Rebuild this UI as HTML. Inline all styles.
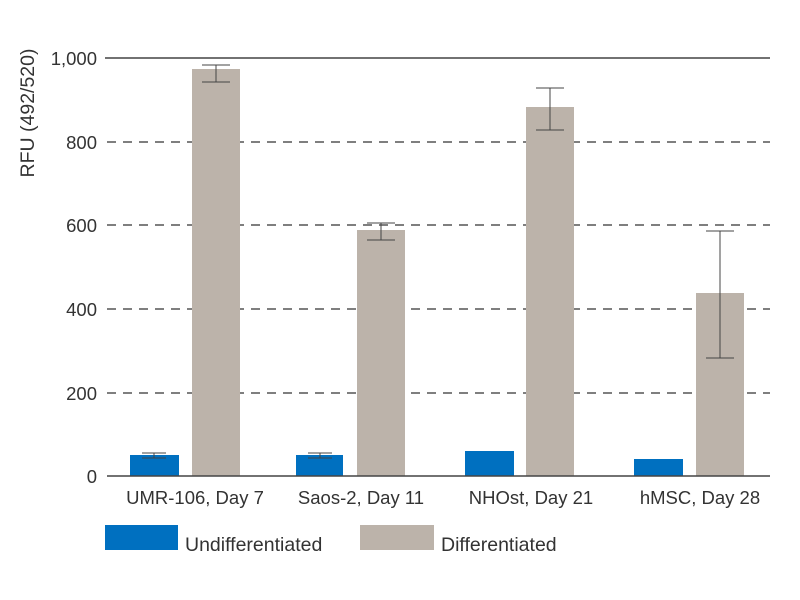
<!DOCTYPE html>
<html><head><style>body{margin:0;background:#fff}svg{display:block}text{font-family:"Liberation Sans",sans-serif;fill:#333}</style></head><body>
<svg width="800" height="600" viewBox="0 0 800 600">
<g stroke="#333" stroke-width="1.3" stroke-dasharray="9,7">
<line x1="107" y1="142" x2="770" y2="142"/><line x1="107" y1="225" x2="770" y2="225"/><line x1="107" y1="309" x2="770" y2="309"/><line x1="107" y1="393" x2="770" y2="393"/>
</g>
<line x1="105" y1="58" x2="770" y2="58" stroke="#444" stroke-width="1.6"/>
<g font-size="18.5" text-anchor="end">
<text x="97" y="65">1,000</text><text x="97" y="149">800</text><text x="97" y="232">600</text><text x="97" y="316">400</text><text x="97" y="400">200</text><text x="97" y="483">0</text>
</g>
<text transform="translate(34,113) rotate(-90)" font-size="19.5" text-anchor="middle">RFU (492/520)</text>
<g fill="#0070c0">
<rect x="130" y="455" width="49" height="21"/><rect x="296" y="455" width="47" height="21"/><rect x="465" y="451" width="49" height="25"/><rect x="634" y="459" width="49" height="17"/>
</g>
<g fill="#bcb3aa">
<rect x="192" y="69" width="48" height="407"/><rect x="357" y="230" width="48" height="246"/><rect x="526" y="107" width="48" height="369"/><rect x="696" y="293" width="48" height="183"/>
</g>
<g stroke="#444" stroke-width="1" fill="none">
<path d="M216 65V82M202 65H230M202 82H230"/>
<path d="M381 223V240M367 223H395M367 240H395"/>
<path d="M550 88V130M536 88H564M536 130H564"/>
<path d="M720 231V358M706 231H734M706 358H734"/>
<path d="M154 453V458M142 453H166M142 458H166"/>
<path d="M320 453V458M308 453H332M308 458H332"/>
</g>
<line x1="107" y1="476" x2="770" y2="476" stroke="#444" stroke-width="1.6"/>
<g font-size="18.5" text-anchor="middle">
<text x="195" y="504">UMR-106, Day 7</text><text x="361" y="504">Saos-2, Day 11</text><text x="531" y="504">NHOst, Day 21</text><text x="700" y="504">hMSC, Day 28</text>
</g>
<rect x="105" y="525" width="73" height="25" fill="#0070c0"/>
<text x="185" y="551" font-size="19.5">Undifferentiated</text>
<rect x="360" y="525" width="74" height="25" fill="#bcb3aa"/>
<text x="441" y="551" font-size="19.5">Differentiated</text>
</svg>
</body></html>
